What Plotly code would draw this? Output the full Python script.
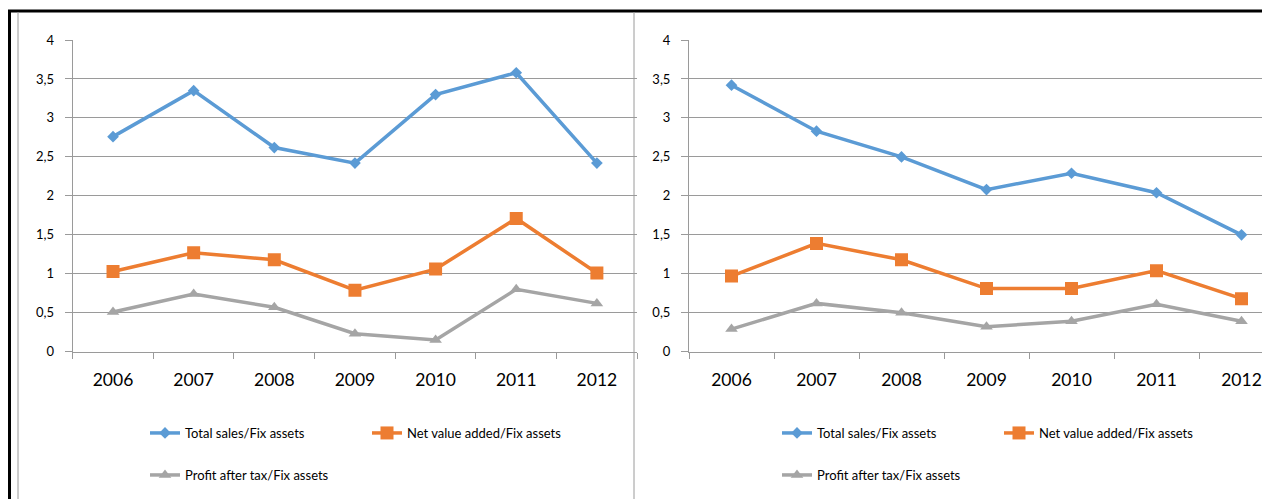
import plotly.graph_objects as go

years = ["2006", "2007", "2008", "2009", "2010", "2011", "2012"]

left_sales = [2.76, 3.35, 2.62, 2.42, 3.30, 3.58, 2.42]
left_nva = [1.03, 1.27, 1.18, 0.79, 1.06, 1.71, 1.01]
left_profit = [0.51, 0.74, 0.57, 0.23, 0.15, 0.80, 0.62]

right_sales = [3.42, 2.83, 2.50, 2.08, 2.29, 2.04, 1.50]
right_nva = [0.97, 1.39, 1.18, 0.81, 0.81, 1.04, 0.68]
right_profit = [0.29, 0.62, 0.50, 0.32, 0.39, 0.61, 0.39]

series_names = ["Total sales/Fix assets", "Net value added/Fix assets", "Profit after tax/Fix assets"]
colors = ["#5B9BD5", "#ED7D31", "#A5A5A5"]
symbols = ["diamond", "square", "triangle-up"]
sizes = [9, 13, 11]

W, H = 1262, 499
FONT = "Lato"
GRID = "#9a9a9a"

fig = go.Figure()

panels = [
    ("x", "y", [left_sales, left_nva, left_profit], ["legend2", "legend3", "legend4"]),
    ("x2", "y2", [right_sales, right_nva, right_profit], ["legend5", "legend6", "legend7"]),
]
for xa, ya, data, legs in panels:
    for i, vals in enumerate(data):
        fig.add_trace(go.Scatter(
            x=years, y=vals, xaxis=xa, yaxis=ya, name=series_names[i],
            mode="lines+markers", legend=legs[i],
            line=dict(color=colors[i], width=3.5),
            marker=dict(symbol=symbols[i], size=sizes[i], color=colors[i]),
        ))

def px_x(p):
    return p / W

def px_y(p):
    return 1 - p / H

ydom = [px_y(351.7), px_y(40)]
common_y = dict(range=[0, 4], dtick=0.5, showgrid=True, gridcolor=GRID, gridwidth=1,
                showline=True, linecolor=GRID, linewidth=1, ticks="outside", ticklen=7,
                tickcolor=GRID, tickfont=dict(family=FONT, size=13, color="#000"),
                ticklabelstandoff=8, zeroline=False, domain=ydom, fixedrange=True,
                automargin=False)
common_x = dict(type="category", showgrid=False, showline=True, linecolor=GRID, linewidth=1,
                ticks="outside", tickson="boundaries", ticklen=6, tickcolor=GRID,
                tickfont=dict(family=FONT, size=17.5, color="#000"), ticklabelstandoff=12,
                automargin=False)

fig.update_layout(
    width=W, height=H, margin=dict(l=0, r=0, t=0, b=0, pad=0, autoexpand=False),
    paper_bgcolor="white", plot_bgcolor="white",
    separators=", ",
    font=dict(family=FONT, color="#000"),
    showlegend=True,
    xaxis=dict(common_x, domain=[px_x(72.7), px_x(637.2)], range=[-0.5, 6.5], anchor="y"),
    yaxis=dict(common_y, anchor="x"),
    xaxis2=dict(common_x, domain=[px_x(689), 1.0], range=[-0.5, -0.5 + (1262 - 689) / 85.0], anchor="y2"),
    yaxis2=dict(common_y, anchor="x2"),
)

leg_style = dict(orientation="v", xanchor="left", yanchor="middle", bgcolor="rgba(0,0,0,0)",
                 borderwidth=0, font=dict(family=FONT, size=13, color="#000"),
                 xref="paper", yref="paper", itemclick=False)
leg_pos = {
    "legend2": (145, 433), "legend3": (367, 433), "legend4": (145, 475),
    "legend5": (777, 433), "legend6": (999, 433), "legend7": (777, 475),
}
for name, (lx, ly) in leg_pos.items():
    fig.update_layout({name: dict(leg_style, x=px_x(lx), y=px_y(ly))})

# frame decorations
fig.add_shape(type="line", xref="paper", yref="paper", x0=px_x(8), x1=1, y0=px_y(11), y1=px_y(11),
              line=dict(color="black", width=3))
fig.add_shape(type="line", xref="paper", yref="paper", x0=px_x(9.5), x1=px_x(9.5), y0=0, y1=px_y(10),
              line=dict(color="black", width=3))
fig.add_shape(type="line", xref="paper", yref="paper", x0=px_x(18), x1=px_x(18), y0=0, y1=px_y(12),
              line=dict(color=GRID, width=1))
fig.add_shape(type="line", xref="paper", yref="paper", x0=px_x(634), x1=px_x(634), y0=0, y1=px_y(12),
              line=dict(color=GRID, width=1))

fig.write_html("out.html")
